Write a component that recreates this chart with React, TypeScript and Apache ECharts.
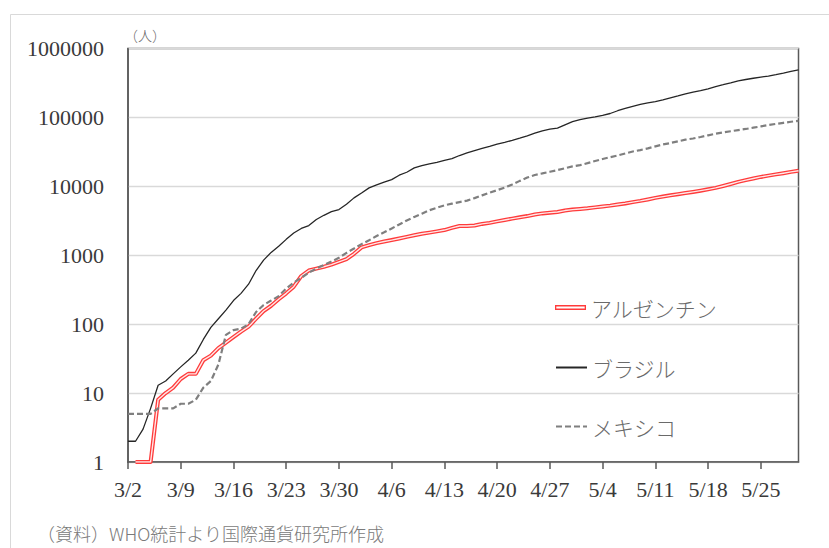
import React, { useEffect, useRef } from "react";
import * as echarts from "echarts";

const dates = [
  "3/2","3/3","3/4","3/5","3/6","3/7","3/8","3/9","3/10","3/11","3/12","3/13","3/14","3/15","3/16","3/17","3/18","3/19","3/20","3/21","3/22","3/23","3/24","3/25","3/26","3/27","3/28","3/29","3/30","3/31",
  "4/1","4/2","4/3","4/4","4/5","4/6","4/7","4/8","4/9","4/10","4/11","4/12","4/13","4/14","4/15","4/16","4/17","4/18","4/19","4/20","4/21","4/22","4/23","4/24","4/25","4/26","4/27","4/28","4/29","4/30",
  "5/1","5/2","5/3","5/4","5/5","5/6","5/7","5/8","5/9","5/10","5/11","5/12","5/13","5/14","5/15","5/16","5/17","5/18","5/19","5/20","5/21","5/22","5/23","5/24","5/25","5/26","5/27","5/28","5/29","5/30",
];

const argentina = [
  null, 1, 1, 1, 8, 10, 12, 16, 19, 19,
  30, 35, 45, 54, 65, 78, 92, 120, 155, 185,
  230, 280, 350, 500, 600, 640, 680, 730, 800, 880,
  1050, 1300, 1400, 1500, 1580, 1660, 1750, 1850, 1950, 2050,
  2130, 2220, 2320, 2500, 2660, 2660, 2700, 2850, 2950, 3100,
  3250, 3400, 3550, 3700, 3900, 4050, 4150, 4250, 4450, 4600,
  4700, 4800, 4950, 5100, 5250, 5450, 5650, 5900, 6150, 6450,
  6800, 7100, 7400, 7700, 8000, 8300, 8650, 9050, 9500, 10100,
  10800, 11600, 12300, 13000, 13700, 14300, 14900, 15500, 16200, 16800,
];

const brazil = [
  2, 2, 3, 6, 13, 15, 19, 24, 30, 38,
  60, 90, 120, 160, 220, 280, 380, 600, 850, 1100,
  1350, 1700, 2100, 2450, 2700, 3300, 3800, 4300, 4600, 5500,
  6800, 8000, 9500, 10500, 11500, 12500, 14500, 16000, 18500, 20000,
  21200, 22300, 23800, 25200, 28000, 30500, 33000, 35500, 38000, 41000,
  43500, 46500, 50000, 54000, 59000, 64000, 67500, 70000, 78000, 87000,
  93000, 98000, 102000, 107000, 114000, 125000, 135000, 145000, 155000, 163000,
  170000, 180000, 192000, 205000, 220000, 233000, 245000, 260000, 280000, 298000,
  318000, 340000, 355000, 370000, 385000, 398000, 418000, 440000, 465000, 490000,
];

const mexico = [
  5, 5, 5, 5, 6, 6, 6, 7, 7, 8,
  12, 15, 26, 70, 82, 86, 100, 150, 190, 220,
  255, 330, 400, 470, 560, 640, 720, 810, 920, 1080,
  1250, 1450, 1650, 1900, 2150, 2450, 2800, 3200, 3600, 4000,
  4500, 4900, 5300, 5600, 5900, 6200, 6750, 7400, 8100, 8800,
  9600, 10600, 12000, 13400, 14600, 15400, 16300, 17200, 18300, 19500,
  20300, 21700, 23300, 24900, 26500, 28000, 30000, 32000, 33600, 35500,
  38000, 40500, 42500, 45000, 47500, 49500, 52000, 55000, 58000, 60500,
  63000, 65500, 68000, 71000, 74000, 77500, 80500, 83500, 86500, 89000,
];

const seriesNames = ["アルゼンチン", "ブラジル", "メキシコ"];
const unitLabel = "（人）";
const sourceNote = "（資料）WHO統計より国際通貨研究所作成";

const SERIF = "'Liberation Serif', 'DejaVu Serif', serif";
const JP = "'Noto Sans CJK JP', sans-serif";

export default function App() {
  const ref = useRef<HTMLDivElement>(null);

  useEffect(() => {
    if (!ref.current) return;
    const chart = echarts.init(ref.current, null, { renderer: "svg" });

    const legendBase = {
      orient: "vertical",
      left: 550,
      itemWidth: 31,
      itemGap: 0,
      selectedMode: false,
      textStyle: { fontFamily: JP, fontSize: 21, fontWeight: 300, color: "#6a6a6a" },
    };

    chart.setOption({
      animation: false,
      backgroundColor: "#ffffff",
      grid: {
        left: 128,
        right: 30.5,
        top: 48.5,
        bottom: 86,
        show: true,
        borderColor: "#595959",
        borderWidth: 1.5,
        backgroundColor: "transparent",
      },
      legend: [
        {
          ...legendBase,
          top: 292,
          itemHeight: 5,
          icon: "path://M0,0L31,0L31,5L0,5Z M1.3,1.4L1.3,3.6L29.7,3.6L29.7,1.4Z",
          data: [seriesNames[0]],
        },
        {
          ...legendBase,
          top: 352,
          itemHeight: 14,
          itemStyle: { opacity: 0 },
          data: [seriesNames[1]],
        },
        {
          ...legendBase,
          top: 411,
          itemHeight: 14,
          itemStyle: { opacity: 0 },
          data: [seriesNames[2]],
        },
      ],
      xAxis: {
        type: "category",
        data: dates,
        boundaryGap: false,
        axisLine: { show: true, lineStyle: { color: "#595959", width: 1.5 } },
        axisTick: {
          show: true,
          interval: (i: number) => i % 7 === 0,
          length: 7,
          lineStyle: { color: "#595959", width: 1.5 },
        },
        axisLabel: {
          interval: (i: number) => i % 7 === 0,
          fontFamily: SERIF,
          fontSize: 22,
          color: "#3a3a3a",
          margin: 16,
        },
        splitLine: { show: false },
      },
      yAxis: {
        type: "log",
        logBase: 10,
        min: 1,
        max: 1000000,
        interval: 1,
        axisLine: { show: true, lineStyle: { color: "#595959", width: 1.5 } },
        axisTick: { show: false },
        axisLabel: {
          fontFamily: SERIF,
          fontSize: 22,
          color: "#3a3a3a",
          margin: 24,
          formatter: (v: number) => String(Math.round(v)),
        },
        splitLine: { show: true, lineStyle: { color: "#d9d9d9", width: 1.3 } },
      },
      series: [
        {
          name: seriesNames[0],
          type: "line",
          data: argentina,
          symbol: "none",
          color: "#ff3b3b",
          lineStyle: { color: "#ff3b3b", width: 4, join: "round" },
          z: 2,
        },
        {
          name: "_argentina_inner",
          type: "line",
          data: argentina,
          symbol: "none",
          color: "#ffffff",
          lineStyle: { color: "#ffe8e8", width: 1.4, join: "round" },
          z: 3,
          silent: true,
        },
        {
          name: seriesNames[1],
          type: "line",
          data: brazil,
          symbol: "none",
          color: "#262626",
          lineStyle: { color: "#262626", width: 1.3 },
          z: 4,
        },
        {
          name: seriesNames[2],
          type: "line",
          data: mexico,
          symbol: "none",
          color: "#7f7f7f",
          lineStyle: { color: "#7f7f7f", width: 2.2, type: [6, 3] },
          z: 5,
        },
      ],
      graphic: [
        {
          type: "rect",
          shape: { x: 10.5, y: 14.5, width: 900, height: 700 },
          style: { fill: "none", stroke: "#d9d9d9", lineWidth: 1 },
          z: -10,
          silent: true,
        },
        {
          type: "text",
          x: 124,
          y: 35,
          style: {
            text: unitLabel,
            fontFamily: JP,
            fontSize: 14,
            fontWeight: 300,
            fill: "#6a6a6a",
            verticalAlign: "middle",
          },
        },
        {
          type: "text",
          x: 37,
          y: 533,
          style: {
            text: sourceNote,
            fontFamily: JP,
            fontSize: 18,
            fontWeight: 300,
            fill: "#7a7a7a",
            verticalAlign: "middle",
          },
        },
      ],
    });

    return () => chart.dispose();
  }, []);

  return (
    <div
      ref={ref}
      style={{ position: "fixed", left: 0, top: 0, width: 829, height: 548 }}
    />
  );
}
